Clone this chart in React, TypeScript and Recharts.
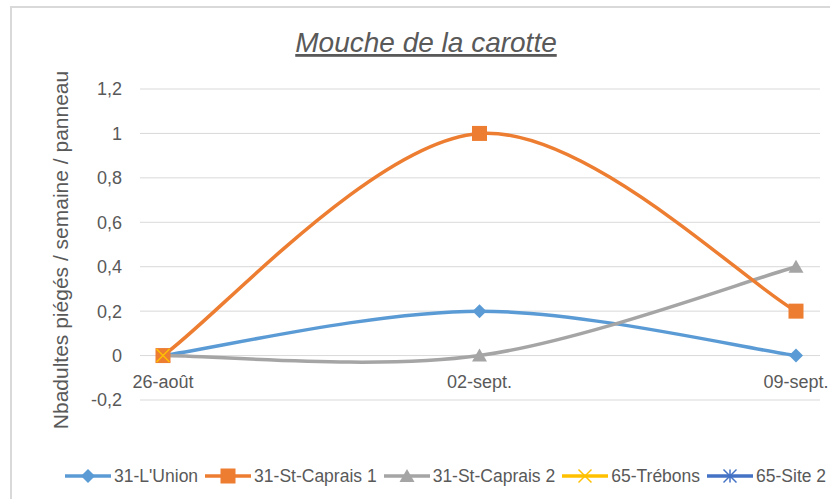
import React from 'react';
import { LineChart, Line, XAxis, YAxis, CartesianGrid } from 'recharts';

const dates = ['26-août', '02-sept.', '09-sept.'];
const lUnion = [0, 0.2, 0];
const stCaprais1 = [0, 1, 0.2];
const stCaprais2 = [0, 0, 0.4];
const trebons: (number | null)[] = [0, null, null];
const site2: (number | null)[] = [null, null, null];
const yTicks = [-0.2, 0, 0.2, 0.4, 0.6, 0.8, 1, 1.2];

const seriesNames = ['31-L\'Union', '31-St-Caprais 1', '31-St-Caprais 2', '65-Trébons', '65-Site 2'];
const seriesKeys = ['lUnion', 'stCaprais1', 'stCaprais2', 'trebons', 'site2'];
const seriesColors = ['#5B9BD5', '#ED7D31', '#A5A5A5', '#FFC000', '#4472C4'];
const seriesMarkers = ['diamond', 'square', 'triangle', 'x', 'star'];

const data = dates.map((d, i) => ({
  date: d,
  lUnion: lUnion[i],
  stCaprais1: stCaprais1[i],
  stCaprais2: stCaprais2[i],
  trebons: trebons[i],
  site2: site2[i],
}));

const FONT = 'Liberation Sans, Arial, sans-serif';

// Excel-like smoothing (Catmull-Rom)
function smoothCurve(context: any) {
  let pts: number[][] = [];
  return {
    areaStart() {},
    areaEnd() {},
    lineStart() {
      pts = [];
    },
    point(x: number, y: number) {
      pts.push([+x, +y]);
    },
    lineEnd() {
      const n = pts.length;
      if (!n) return;
      context.moveTo(pts[0][0], pts[0][1]);
      for (let i = 0; i < n - 1; i++) {
        const p0 = pts[i - 1] || pts[i];
        const p1 = pts[i];
        const p2 = pts[i + 1];
        const p3 = pts[i + 2] || p2;
        context.bezierCurveTo(
          p1[0] + (p2[0] - p0[0]) / 6,
          p1[1] + (p2[1] - p0[1]) / 6,
          p2[0] - (p3[0] - p1[0]) / 6,
          p2[1] - (p3[1] - p1[1]) / 6,
          p2[0],
          p2[1]
        );
      }
    },
  };
}

function Marker({ kind, color, cx, cy }: { kind: string; color: string; cx: number; cy: number }) {
  if (kind === 'diamond') {
    const r = 7;
    return <path d={`M${cx},${cy - r}L${cx + r},${cy}L${cx},${cy + r}L${cx - r},${cy}Z`} fill={color} />;
  }
  if (kind === 'square') {
    const r = 7.5;
    return <rect x={cx - r} y={cy - r} width={r * 2} height={r * 2} fill={color} />;
  }
  if (kind === 'triangle') {
    return <path d={`M${cx},${cy - 7}L${cx + 7.5},${cy + 6}L${cx - 7.5},${cy + 6}Z`} fill={color} />;
  }
  if (kind === 'x') {
    const r = 6.5;
    return (
      <g stroke={color} strokeWidth={1.5}>
        <line x1={cx - r} y1={cy - r} x2={cx + r} y2={cy + r} />
        <line x1={cx - r} y1={cy + r} x2={cx + r} y2={cy - r} />
      </g>
    );
  }
  const r = 6.5;
  return (
    <g stroke={color} strokeWidth={1.5}>
      <line x1={cx - r} y1={cy - r} x2={cx + r} y2={cy + r} />
      <line x1={cx - r} y1={cy + r} x2={cx + r} y2={cy - r} />
      <line x1={cx} y1={cy - r} x2={cx} y2={cy + r} />
    </g>
  );
}

const makeDot = (idx: number) => (props: any) => {
  const { cx, cy, index, value } = props;
  if (cx == null || cy == null || value == null || Number.isNaN(cy)) {
    return <g key={`e-${idx}-${index}`} />;
  }
  return (
    <g key={`d-${idx}-${index}`}>
      <Marker kind={seriesMarkers[idx]} color={seriesColors[idx]} cx={cx} cy={cy} />
    </g>
  );
};

const fmt = (v: number) => String(Math.round(v * 10) / 10).replace('.', ',');

const XTick = (props: any) => {
  const { x, y, payload } = props;
  return (
    <text x={x} y={y} dy={-12} textAnchor="middle" fill="#595959" fontSize={18} fontFamily={FONT}>
      {payload.value}
    </text>
  );
};

const drawOrder = [0, 2, 1, 3, 4];

export default function App() {
  return (
    <div style={{ position: 'absolute', left: 0, top: 0, width: 830, height: 499, overflow: 'hidden', background: '#fff', fontFamily: FONT }}>
      <svg width={830} height={499} style={{ position: 'absolute', left: 0, top: 0 }}>
        <rect x={11} y={7} width={900} height={600} fill="none" stroke="#d9d9d9" strokeWidth={2} />
        <text x={426} y={52} textAnchor="middle" fontSize={28} fontStyle="italic" fill="#595959" fontFamily={FONT} style={{ textDecoration: 'underline' }}>
          Mouche de la carotte
        </text>
        <text x={0} y={0} transform="translate(68,250) rotate(-90)" textAnchor="middle" fontSize={21} fill="#595959" fontFamily={FONT}>
          Nbadultes piégés / semaine / panneau
        </text>
      </svg>
      <div style={{ position: 'absolute', left: 0, top: 0 }}>
        <LineChart width={830} height={499} data={data} margin={{ top: 89, right: 10, bottom: 69, left: 80 }}>
          <CartesianGrid horizontal vertical={false} stroke="#d9d9d9" strokeWidth={1} />
          <XAxis
            dataKey="date"
            height={30}
            padding={{ left: 23, right: 24 }}
            axisLine={false}
            tickLine={false}
            tickSize={0}
            tickMargin={0}
            tick={<XTick />}
            interval={0}
          />
          <YAxis
            width={60}
            domain={[-0.2, 1.2]}
            ticks={yTicks}
            tickFormatter={fmt}
            axisLine={false}
            tickLine={false}
            tickSize={0}
            tickMargin={18}
            tick={{ fill: '#595959', fontSize: 18, fontFamily: FONT }}
            allowDataOverflow
          />
          {drawOrder.map((i) => (
            <Line
              key={seriesKeys[i]}
              dataKey={seriesKeys[i]}
              name={seriesNames[i]}
              stroke={seriesColors[i]}
              strokeWidth={3.5}
              type={smoothCurve as any}
              dot={makeDot(i)}
              activeDot={false}
              isAnimationActive={false}
              connectNulls={false}
            />
          ))}
        </LineChart>
      </div>
      <div style={{ position: 'absolute', left: 65, top: 466, display: 'flex', alignItems: 'center', whiteSpace: 'nowrap', fontSize: 17.5, color: '#595959', height: 20 }}>
        {seriesNames.map((n, i) => (
          <div key={n} style={{ display: 'flex', alignItems: 'center', marginRight: 7 }}>
            <svg width={46} height={20} style={{ display: 'block' }}>
              <line x1={0} y1={10} x2={46} y2={10} stroke={seriesColors[i]} strokeWidth={3.5} />
              <Marker kind={seriesMarkers[i]} color={seriesColors[i]} cx={23} cy={10} />
            </svg>
            <span style={{ marginLeft: 3 }}>{n}</span>
          </div>
        ))}
      </div>
    </div>
  );
}
